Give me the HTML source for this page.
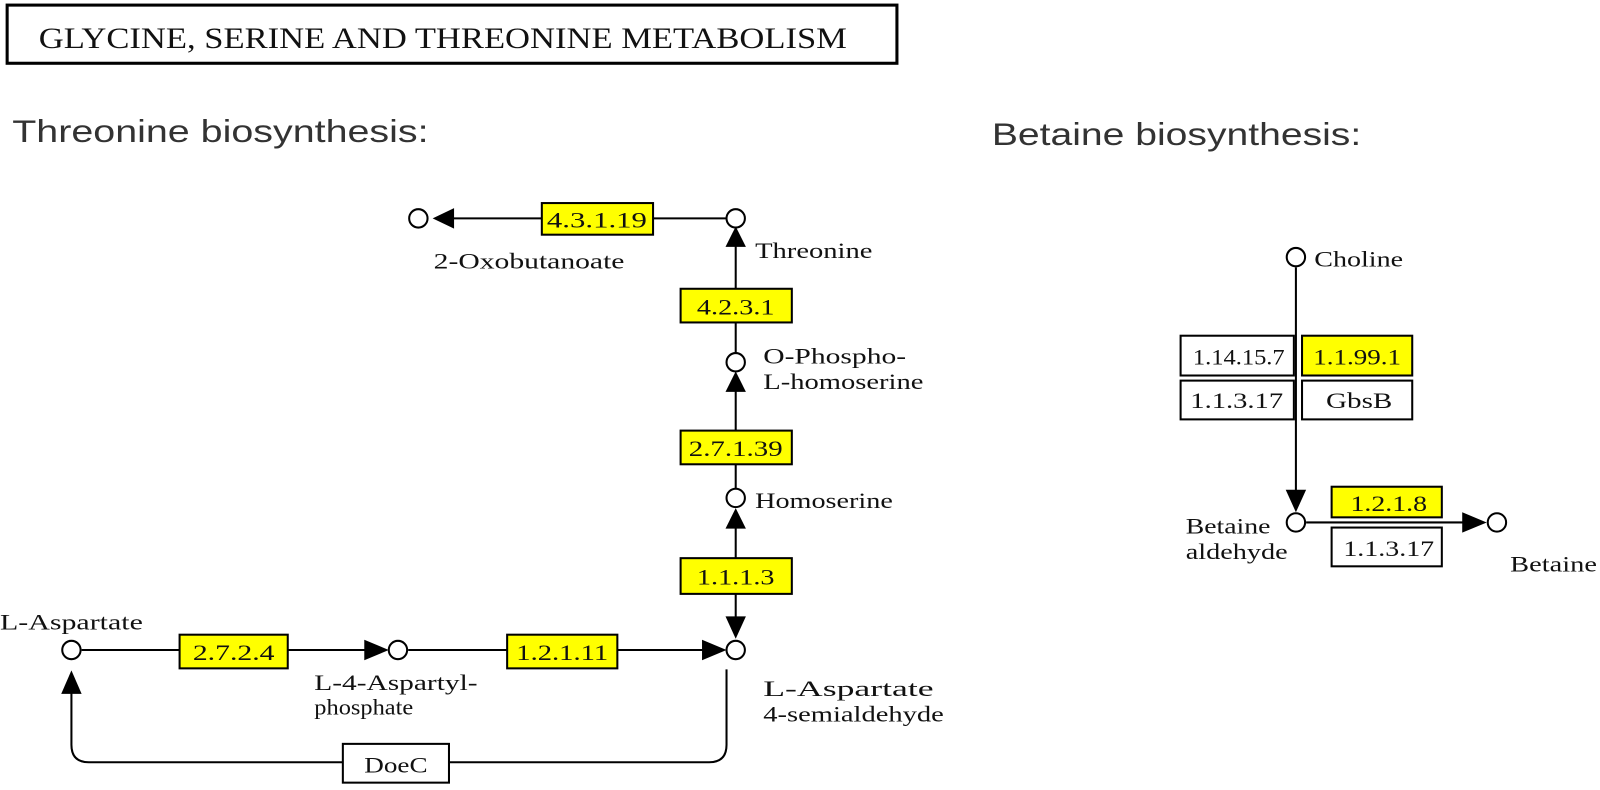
<!DOCTYPE html>
<html><head><meta charset="utf-8"><style>
html,body{margin:0;padding:0;background:#fff;}
svg{display:block;}
.s{font-family:"Liberation Serif",serif;font-size:22px;fill:#111;}
.h{font-family:"Liberation Sans",sans-serif;font-size:31px;fill:#333;}
</style></head><body>
<svg width="1600" height="790" viewBox="0 0 1600 790" xmlns="http://www.w3.org/2000/svg">
<g transform="scale(1.0204)">
<rect x="7" y="5" width="872" height="57" fill="#fff" stroke="#000" stroke-width="3"/>
<text x="38" y="47" font-family="Liberation Serif,serif" font-size="29" fill="#111" textLength="792" lengthAdjust="spacingAndGlyphs">GLYCINE,  SERINE  AND  THREONINE  METABOLISM</text>
<text class="h" x="12" y="139" textLength="408" lengthAdjust="spacingAndGlyphs">Threonine biosynthesis:</text>
<text class="h" x="972" y="142" textLength="362" lengthAdjust="spacingAndGlyphs">Betaine biosynthesis:</text>

<g stroke="#000" stroke-width="2" fill="none">
<line x1="440" y1="214" x2="712" y2="214"/>
<line x1="721" y1="238" x2="721" y2="346"/>
<line x1="721" y1="380" x2="721" y2="479"/>
<line x1="721" y1="512" x2="721" y2="612"/>
<line x1="80" y1="637" x2="360" y2="637"/>
<line x1="400" y1="637" x2="692" y2="637"/>
<path d="M712 656 V730 Q712 747 695 747 H87 Q70 747 70 730 V676"/>
<line x1="1270" y1="262" x2="1270" y2="485"/>
<line x1="1280" y1="512" x2="1435" y2="512"/>
</g>
<g fill="#000">
<polygon points="424,214 445,204 445,224"/>
<polygon points="721,222 711,242 731,242"/>
<polygon points="721,364 711,384 731,384"/>
<polygon points="721,498 711,518 731,518"/>
<polygon points="721,626 711,604 731,604"/>
<polygon points="381,637 357,627 357,647"/>
<polygon points="712,637 688,627 688,647"/>
<polygon points="70,657 60,680 80,680"/>
<polygon points="1270,502 1260,480 1280,480"/>
<polygon points="1457,512 1433,502 1433,522"/>
</g>
<g fill="#fff" stroke="#000" stroke-width="2">
<circle cx="410" cy="214" r="9"/>
<circle cx="721" cy="214" r="9"/>
<circle cx="721" cy="355" r="9"/>
<circle cx="721" cy="488" r="9"/>
<circle cx="721" cy="637" r="9"/>
<circle cx="70" cy="637" r="9"/>
<circle cx="390" cy="637" r="9"/>
<circle cx="1270" cy="252" r="9"/>
<circle cx="1270" cy="512" r="9"/>
<circle cx="1467" cy="512" r="9"/>
</g>
<g stroke="#000" stroke-width="2">
<rect x="531" y="199" width="109" height="31" fill="#ff0"/>
<rect x="667" y="283" width="109" height="33" fill="#ff0"/>
<rect x="667" y="422" width="109" height="33" fill="#ff0"/>
<rect x="667" y="547" width="109" height="35" fill="#ff0"/>
<rect x="176" y="622" width="106" height="33" fill="#ff0"/>
<rect x="497" y="622" width="108" height="33" fill="#ff0"/>
<rect x="336" y="729" width="104" height="38" fill="#fff"/>
<rect x="1157" y="329" width="111" height="39" fill="#fff"/>
<rect x="1276" y="329" width="108" height="39" fill="#ff0"/>
<rect x="1157" y="373" width="111" height="38" fill="#fff"/>
<rect x="1276" y="373" width="108" height="38" fill="#fff"/>
<rect x="1305" y="477" width="108" height="30" fill="#ff0"/>
<rect x="1305" y="517" width="108" height="38" fill="#fff"/>
</g>
<g class="s" text-anchor="middle" lengthAdjust="spacingAndGlyphs">
<text x="585" y="223" textLength="98" lengthAdjust="spacingAndGlyphs">4.3.1.19</text>
<text x="721" y="308" textLength="76" lengthAdjust="spacingAndGlyphs">4.2.3.1</text>
<text x="721" y="447" textLength="92" lengthAdjust="spacingAndGlyphs">2.7.1.39</text>
<text x="721" y="573" textLength="76" lengthAdjust="spacingAndGlyphs">1.1.1.3</text>
<text x="229" y="647" textLength="80" lengthAdjust="spacingAndGlyphs">2.7.2.4</text>
<text x="551" y="647" textLength="90" lengthAdjust="spacingAndGlyphs">1.2.1.11</text>
<text x="388" y="757" textLength="62" lengthAdjust="spacingAndGlyphs">DoeC</text>
<text x="1214" y="357" textLength="90" lengthAdjust="spacingAndGlyphs">1.14.15.7</text>
<text x="1330" y="357" textLength="86" lengthAdjust="spacingAndGlyphs">1.1.99.1</text>
<text x="1212" y="400" textLength="91" lengthAdjust="spacingAndGlyphs">1.1.3.17</text>
<text x="1332" y="400" textLength="65" lengthAdjust="spacingAndGlyphs">GbsB</text>
<text x="1361" y="501" textLength="75" lengthAdjust="spacingAndGlyphs">1.2.1.8</text>
<text x="1361" y="545" textLength="89" lengthAdjust="spacingAndGlyphs">1.1.3.17</text>
</g>
<g class="s">
<text x="425" y="263" textLength="187" lengthAdjust="spacingAndGlyphs">2-Oxobutanoate</text>
<text x="740" y="253" textLength="115" lengthAdjust="spacingAndGlyphs">Threonine</text>
<text x="748" y="356" textLength="140" lengthAdjust="spacingAndGlyphs">O-Phospho-</text>
<text x="748" y="381" textLength="157" lengthAdjust="spacingAndGlyphs">L-homoserine</text>
<text x="740" y="498" textLength="135" lengthAdjust="spacingAndGlyphs">Homoserine</text>
<text x="0" y="617" textLength="140" lengthAdjust="spacingAndGlyphs">L-Aspartate</text>
<text x="308" y="676" textLength="160" lengthAdjust="spacingAndGlyphs">L-4-Aspartyl-</text>
<text x="308" y="700" textLength="97" lengthAdjust="spacingAndGlyphs">phosphate</text>
<text x="748" y="682" textLength="167" lengthAdjust="spacingAndGlyphs">L-Aspartate</text>
<text x="748" y="707" textLength="177" lengthAdjust="spacingAndGlyphs">4-semialdehyde</text>
<text x="1288" y="261" textLength="87" lengthAdjust="spacingAndGlyphs">Choline</text>
<text x="1162" y="523" textLength="83" lengthAdjust="spacingAndGlyphs">Betaine</text>
<text x="1162" y="548" textLength="100" lengthAdjust="spacingAndGlyphs">aldehyde</text>
<text x="1480" y="560" textLength="85" lengthAdjust="spacingAndGlyphs">Betaine</text>
</g>
</g>
</svg>
</body></html>
